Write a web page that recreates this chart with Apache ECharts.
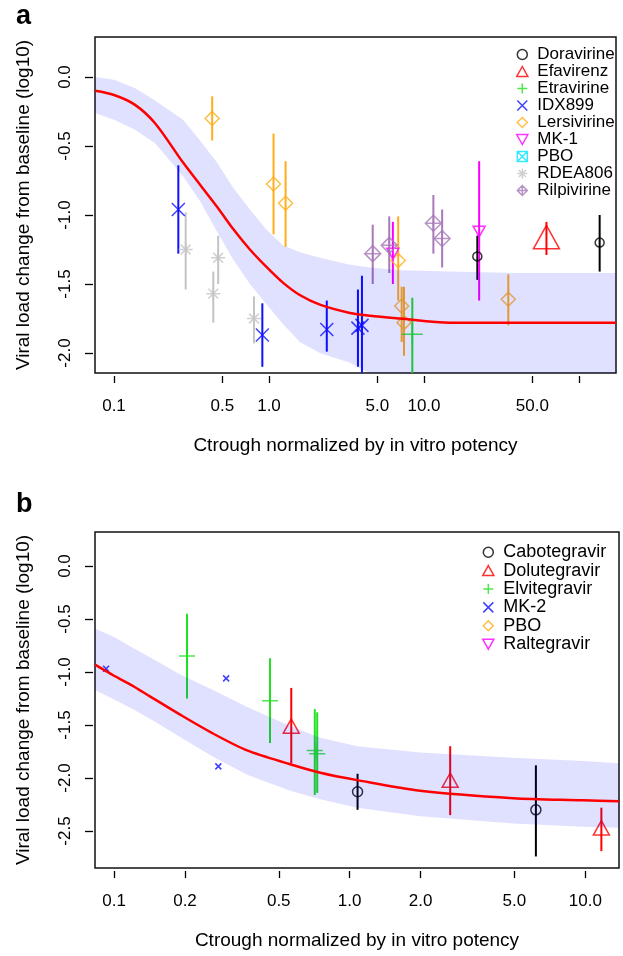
<!DOCTYPE html>
<html><head><meta charset="utf-8">
<script src="https://cdn.jsdelivr.net/npm/echarts@6/dist/echarts.min.js"></script>
<style>html,body{margin:0;padding:0;background:#fff}#c{width:623px;height:956px}</style>
</head><body><div id="c"></div>
<script>
// ---------- Panel a data ----------
const curveXA = [0.0754, 0.1, 0.136, 0.184, 0.279, 0.359, 0.462, 0.586, 0.753, 0.97, 1.23, 1.58, 2.13, 3.33, 4.49, 7.0, 14.7, 41.6, 173];
const fitA    = [-0.10, -0.13, -0.20, -0.335, -0.62, -0.78, -0.94, -1.10, -1.25, -1.38, -1.49, -1.58, -1.65, -1.71, -1.73, -1.75, -1.78, -1.78, -1.78];
const upperA  = [0.0, -0.02, -0.08, -0.17, -0.31, -0.46, -0.62, -0.80, -0.96, -1.11, -1.22, -1.27, -1.31, -1.36, -1.38, -1.40, -1.41, -1.42, -1.42];
const lowerA  = [-0.26, -0.31, -0.38, -0.48, -0.72, -0.90, -1.12, -1.32, -1.50, -1.65, -1.79, -1.92, -2.00, -2.07, -2.15, -2.20, -2.20, -2.20, -2.20];

const doraX = [22.1, 136], doraY = [-1.30, -1.20], doraLo = [-1.47, -1.41], doraHi = [-1.15, -1.00];
const efavX = [61.7], efavY = [-1.16], efavLo = [-1.29], efavHi = [-1.05];
const etraX = [8.41], etraY = [-1.865], etraLo = [-2.15], etraHi = [-1.60];
const idxX = [0.26, 0.906, 2.36, 3.75, 3.98], idxY = [-0.96, -1.87, -1.83, -1.82, -1.80];
const idxLo = [-1.28, -2.10, -1.99, -2.10, -2.15], idxHi = [-0.64, -1.64, -1.62, -1.54, -1.44];
const lersX = [0.43, 1.07, 1.28, 6.82, 7.18, 7.43, 35.0], lersY = [-0.30, -0.775, -0.915, -1.33, -1.66, -1.78, -1.61];
const lersLo = [-0.46, -1.14, -1.23, -1.62, -1.92, -2.02, -1.80], lersHi = [-0.14, -0.41, -0.61, -1.01, -1.52, -1.52, -1.43];
const mk1X = [6.3, 22.7], mk1Y = [-1.28, -1.12], mk1Lo = [-1.50, -1.62], mk1Hi = [-1.05, -0.61];
const pboAX = [], pboAY = [];
const rdeaX = [0.29, 0.437, 0.47, 0.80], rdeaY = [-1.25, -1.57, -1.31, -1.75];
const rdeaLo = [-1.54, -1.78, -1.50, -1.93], rdeaHi = [-0.98, -1.41, -1.15, -1.59];
const rilX = [4.67, 5.97, 11.5, 13.1], rilY = [-1.28, -1.22, -1.06, -1.17];
const rilLo = [-1.50, -1.42, -1.28, -1.38], rilHi = [-1.07, -1.01, -0.855, -0.96];

const xTicksA = [0.1, 0.5, 1, 5, 10, 50, 100];
const xLabelsA = [0.1, 0.5, 1, 5, 10, 50];
const yTicksA = [0, -0.5, -1, -1.5, -2];

// ---------- Panel b data ----------
const curveXB = [0.083, 0.1, 0.12, 0.142, 0.19, 0.263, 0.367, 0.559, 0.75, 1.077, 1.99, 4.94, 9.8, 13.9];
const fitB    = [-0.93, -1.035, -1.13, -1.23, -1.40, -1.58, -1.74, -1.87, -1.95, -2.02, -2.12, -2.19, -2.21, -2.22];
const upperB  = [-0.59, -0.67, -0.77, -0.86, -1.02, -1.17, -1.33, -1.51, -1.62, -1.70, -1.76, -1.81, -1.84, -1.86];
const lowerB  = [-1.17, -1.26, -1.35, -1.44, -1.61, -1.80, -1.97, -2.12, -2.20, -2.28, -2.36, -2.43, -2.46, -2.47];

const caboX = [1.08, 6.17], caboY = [-2.13, -2.30], caboLo = [-2.30, -2.74], caboHi = [-1.96, -1.88];
const doluX = [0.565, 2.67, 11.7], doluY = [-1.51, -2.02, -2.47], doluLo = [-1.86, -2.35, -2.69], doluHi = [-1.15, -1.70, -2.28];
const elviX = [0.204, 0.459, 0.711, 0.728], elviY = [-0.85, -1.27, -1.74, -1.77];
const elviLo = [-1.25, -1.67, -2.16, -2.14], elviHi = [-0.45, -0.87, -1.35, -1.38];
const mk2X = [0.0925, 0.277, 0.299], mk2Y = [-0.97, -1.89, -1.06];
const pboBX = [], pboBY = [];
const ralX = [], ralY = [];

const xTicksB = [0.1, 0.2, 0.5, 1, 2, 5, 10];
const yTicksB = [0, -0.5, -1, -1.5, -2, -2.5];

const namesA = ['Doravirine', 'Efavirenz', 'Etravirine', 'IDX899', 'Lersivirine', 'MK-1', 'PBO', 'RDEA806', 'Rilpivirine'];
const namesB = ['Cabotegravir', 'Dolutegravir', 'Elvitegravir', 'MK-2', 'PBO', 'Raltegravir'];

// ---------- styling ----------
const FONT = '"Liberation Sans", Arial, sans-serif';
const SYM = {
  circle: 'circle',
  triUp: 'path://M0,-10L10,8L-10,8Z',
  plus: 'path://M0,-10L0,10M-10,0L10,0',
  cross: 'path://M-10,-10L10,10M-10,10L10,-10',
  diamond: 'path://M0,-10L10,0L0,10L-10,0Z',
  triDown: 'path://M-10,-8L10,-8L0,10Z',
  boxX: 'path://M-10,-10L10,-10L10,10L-10,10ZM-10,-10L10,10M-10,10L10,-10',
  star: 'path://M0,-10L0,10M-10,0L10,0M-7,-7L7,7M-7,7L7,-7',
  diamondPlus: 'path://M0,-10L10,0L0,10L-10,0ZM0,-10L0,10M-10,0L10,0'
};
const C = {black:'#000000', red:'#FF0000', green:'#22E022', blue:'#1010FF', orange:'#FFAE1A',
           magenta:'#FF00FF', cyan:'#00E5FF', grey:'#C4C4C4', purple:'#A878B8'};
const BAND = 'rgba(0,0,255,0.12)';

function sc(name, xs, ys, sym, color, size, gi) {
  return {type:'scatter', name, xAxisIndex:gi, yAxisIndex:gi, data: xs.map((x,i)=>[x, ys[i]]),
    symbol: sym, symbolSize: size, symbolKeepAspect: true, z: 2, silent: true, clip: true,
    itemStyle: {color:'transparent', borderColor: color, borderWidth: 1.5}, emphasis:{disabled:true}};
}
function eb(xs, lo, hi, color, gi) {
  return {type:'custom', xAxisIndex:gi, yAxisIndex:gi, z: 2, silent: true, clip: true,
    data: xs.map((x,i)=>[x, lo[i], hi[i]]), encode:{x:0, y:[1,2]},
    renderItem: function(params, api) {
      const a = api.coord([api.value(0), api.value(1)]);
      const b = api.coord([api.value(0), api.value(2)]);
      return {type:'line', shape:{x1:a[0], y1:a[1], x2:b[0], y2:b[1]}, style:{stroke: color, lineWidth: 2}};
    }};
}
function band(xs, lo, hi, gi) {
  return {type:'custom', xAxisIndex:gi, yAxisIndex:gi, z: 3, silent: true, clip: true,
    data: xs.map((x,i)=>[x, lo[i], hi[i]]), encode:{x:0, y:[1,2]},
    renderItem: function(params, api) {
      if (params.dataIndex !== 0) return null;
      const top = xs.map((x,i)=>api.coord([x, hi[i]]));
      const bot = xs.map((x,i)=>api.coord([x, lo[i]])).reverse();
      return {type:'polygon', shape:{points: top.concat(bot)}, style:{fill: BAND}};
    }};
}
function fit(xs, ys, gi) {
  return {type:'line', xAxisIndex:gi, yAxisIndex:gi, data: xs.map((x,i)=>[x, ys[i]]), symbol:'none',
    showSymbol:false, smooth:0.3, z: 4, silent: true, clip: true, lineStyle:{color:'#FF0000', width:2.5}};
}
const fmt1 = v => (Math.abs(v) < 1e-9 ? 0 : v).toFixed(1);

function xAx(gi, min, max, ticks, labels) {
  return {type:'log', logBase:10, gridIndex:gi, min, max, offset:3, position:'bottom',
    axisLine:{show:false, onZero:false}, splitLine:{show:false}, minorTick:{show:false},
    axisTick:{show:true, length:7, customValues: ticks, lineStyle:{color:'#000', width:1.3}},
    axisLabel:{customValues: labels, formatter: fmt1, fontSize:17, color:'#000', margin:22, fontFamily:FONT},
    name:'Ctrough normalized by in vitro potency', nameLocation:'middle', nameGap:60,
    nameTextStyle:{fontSize:19, color:'#000', fontFamily:FONT}};
}
function yAx(gi, min, max, ticks) {
  return {type:'value', gridIndex:gi, min, max, offset:2, position:'left',
    axisLine:{show:false, onZero:false}, splitLine:{show:false},
    axisTick:{show:true, length:8, customValues: ticks, lineStyle:{color:'#000', width:1.3}},
    axisLabel:{customValues: ticks, formatter: fmt1, rotate:90, fontSize:17, color:'#000', margin:19, fontFamily:FONT},
    name:'Viral load change from baseline (log10)', nameLocation:'middle', nameGap:60, nameRotate:90,
    nameTextStyle:{fontSize:19, color:'#000', fontFamily:FONT}};
}

const series = [
  // panel a
  sc('Doravirine', doraX, doraY, SYM.circle, C.black, 9, 0),
  sc('Efavirenz', efavX, efavY, SYM.triUp, C.red, 26, 0),
  sc('Etravirine', etraX, etraY, SYM.plus, C.green, 21, 0),
  sc('IDX899', idxX, idxY, SYM.cross, C.blue, 13, 0),
  sc('Lersivirine', lersX, lersY, SYM.diamond, C.orange, 14, 0),
  sc('MK-1', mk1X, mk1Y, SYM.triDown, C.magenta, 12, 0),
  sc('PBO', pboAX, pboAY, SYM.boxX, C.cyan, 10, 0),
  sc('RDEA806', rdeaX, rdeaY, SYM.star, C.grey, 14, 0),
  sc('Rilpivirine', rilX, rilY, SYM.diamondPlus, C.purple, 16, 0),
  eb(doraX, doraLo, doraHi, C.black, 0),
  eb(efavX, efavLo, efavHi, C.red, 0),
  eb(etraX, etraLo, etraHi, C.green, 0),
  eb(idxX, idxLo, idxHi, C.blue, 0),
  eb(lersX, lersLo, lersHi, C.orange, 0),
  eb(mk1X, mk1Lo, mk1Hi, C.magenta, 0),
  eb(rdeaX, rdeaLo, rdeaHi, C.grey, 0),
  eb(rilX, rilLo, rilHi, C.purple, 0),
  band(curveXA, lowerA, upperA, 0),
  fit(curveXA, fitA, 0),
  // panel b
  sc('b_Cabotegravir', caboX, caboY, SYM.circle, C.black, 10, 1),
  sc('b_Dolutegravir', doluX, doluY, SYM.triUp, C.red, 16, 1),
  sc('b_Elvitegravir', elviX, elviY, SYM.plus, C.green, 16, 1),
  sc('b_MK-2', mk2X, mk2Y, SYM.cross, C.blue, 6, 1),
  sc('b_PBO', pboBX, pboBY, SYM.diamond, C.orange, 10, 1),
  sc('b_Raltegravir', ralX, ralY, SYM.triDown, C.magenta, 10, 1),
  eb(caboX, caboLo, caboHi, C.black, 1),
  eb(doluX, doluLo, doluHi, C.red, 1),
  eb(elviX, elviLo, elviHi, C.green, 1),
  band(curveXB, lowerB, upperB, 1),
  fit(curveXB, fitB, 1)
];

const chart = echarts.init(document.getElementById('c'), null, {renderer:'canvas'});
chart.setOption({
  animation: false,
  backgroundColor: '#fff',
  textStyle: {fontFamily: FONT},
  title: [
    {text:'a', left:16, top:3, padding:0, textStyle:{fontSize:27, fontWeight:'bold', color:'#000', fontFamily:FONT}},
    {text:'b', left:16, top:491, padding:0, textStyle:{fontSize:27, fontWeight:'bold', color:'#000', fontFamily:FONT}}
  ],
  grid: [
    {left:95, top:37, width:521, height:336, show:true, borderColor:'#111', borderWidth:1.5, backgroundColor:'transparent', containLabel:false, outerBoundsMode:'none'},
    {left:95, top:532, width:524, height:336, show:true, borderColor:'#111', borderWidth:1.5, backgroundColor:'transparent', containLabel:false, outerBoundsMode:'none'}
  ],
  xAxis: [xAx(0, 0.0754, 173.4, xTicksA, xLabelsA), xAx(1, 0.083, 13.9, xTicksB, xTicksB)],
  yAxis: [yAx(0, -2.145, 0.29, yTicksA), yAx(1, -2.849, 0.321, yTicksB)],
  legend: [
    {data: namesA, orient:'vertical', left:516, top:46, padding:0, itemWidth:20, itemHeight:10, itemGap:0,
     symbolKeepAspect:true, selectedMode:false, itemStyle:{borderWidth:1.5}, textStyle:{fontSize:17, lineHeight:17, color:'#000', fontFamily:FONT}},
    {data: namesB.map(n=>'b_'+n), orient:'vertical', left:482, top:543, padding:0, itemWidth:20, itemHeight:10, itemGap:0,
     symbolKeepAspect:true, selectedMode:false, itemStyle:{borderWidth:1.5}, formatter: n => n.slice(2),
     textStyle:{fontSize:18, lineHeight:18.4, color:'#000', fontFamily:FONT}}
  ],
  series
});
</script></body></html>
